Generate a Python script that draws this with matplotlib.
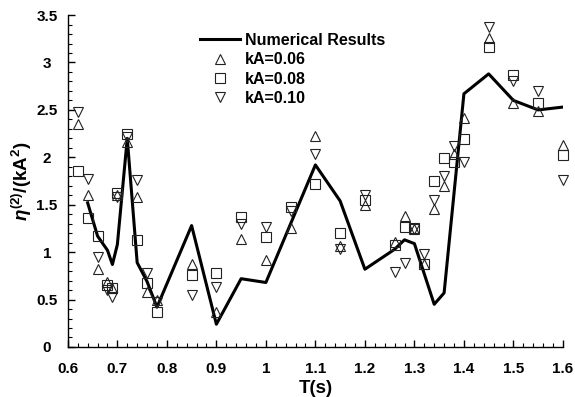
import matplotlib
matplotlib.use("Agg")
import matplotlib.pyplot as plt
from matplotlib.ticker import MultipleLocator

plt.rcParams['font.family'] = ['Liberation Sans', 'DejaVu Sans']
plt.rcParams['font.weight'] = 'bold'
plt.rcParams['mathtext.fontset'] = 'custom'
plt.rcParams['mathtext.rm'] = 'Liberation Sans:bold'
plt.rcParams['mathtext.bf'] = 'Liberation Sans:bold'
plt.rcParams['mathtext.it'] = 'Liberation Sans:bold:italic'

# Numerical solution
T_num = [0.64, 0.66, 0.68, 0.69, 0.70, 0.72, 0.74, 0.76, 0.78, 0.85, 0.90, 0.95,
         1.00, 1.10, 1.15, 1.20, 1.26, 1.28, 1.30, 1.34, 1.36, 1.40, 1.45, 1.50,
         1.55, 1.60]
eta_num = [1.52, 1.17, 1.02, 0.87, 1.08, 2.20, 0.89, 0.69, 0.42, 1.28, 0.24, 0.72,
           0.68, 1.92, 1.54, 0.82, 1.03, 1.13, 1.09, 0.45, 0.57, 2.67, 2.88, 2.60,
           2.50, 2.53]

# Experimental periods
T_exp = [0.62, 0.64, 0.66, 0.68, 0.69, 0.70, 0.72, 0.74, 0.76, 0.78, 0.85, 0.90,
         0.95, 1.00, 1.05, 1.10, 1.15, 1.20, 1.26, 1.28, 1.30, 1.32, 1.34, 1.36,
         1.38, 1.40, 1.45, 1.50, 1.55, 1.60]
eta_kA006 = [2.35, 1.60, 0.82, 0.69, 0.62, 1.60, 2.16, 1.58, 0.58, 0.50, 0.88, 0.37,
             1.14, 0.92, 1.25, 2.23, 1.07, 1.50, 1.11, 1.38, 1.24, 0.88, 1.46, 1.70,
             2.04, 2.41, 3.26, 2.57, 2.49, 2.13]
eta_kA008 = [1.86, 1.36, 1.17, 0.65, 0.62, 1.62, 2.25, 1.13, 0.67, 0.37, 0.76, 0.78,
             1.37, 1.16, 1.48, 1.72, 1.20, 1.55, 1.08, 1.26, 1.25, 0.87, 1.75, 1.99,
             1.95, 2.19, 3.16, 2.87, 2.57, 2.02]
eta_kA010 = [2.48, 1.77, 0.95, 0.60, 0.53, 1.58, 2.21, 1.76, 0.78, 0.47, 0.55, 0.63,
             1.30, 1.27, 1.43, 2.04, 1.03, 1.60, 0.79, 0.89, 1.24, 0.98, 1.55, 1.80,
             2.12, 1.95, 3.37, 2.81, 2.70, 1.76]

x_ticks = [0.6, 0.7, 0.8, 0.9, 1.0, 1.1, 1.2, 1.3, 1.4, 1.5, 1.6]
x_ticklabels = ['0.6', '0.7', '0.8', '0.9', '1', '1.1', '1.2', '1.3', '1.4', '1.5', '1.6']
y_ticks = [0, 0.5, 1, 1.5, 2, 2.5, 3, 3.5]
y_ticklabels = ['0', '0.5', '1', '1.5', '2', '2.5', '3', '3.5']

fig = plt.figure(figsize=(5.75, 3.97), dpi=100)
ax = fig.add_axes([0.118, 0.126, 0.861, 0.836])

ax.plot(T_num, eta_num, color='black', lw=2.2, label='Numerical Results', zorder=3)
mk = dict(ls='none', ms=7.3, mfc='none', mec='#222222', mew=0.8, zorder=4, clip_on=False)
ax.plot(T_exp, eta_kA006, marker='^', label='kA=0.06', **mk)
ax.plot(T_exp, eta_kA008, marker='s', label='kA=0.08', **mk)
ax.plot(T_exp, eta_kA010, marker='v', label='kA=0.10', **mk)

ax.set_xlim(0.6, 1.6)
ax.set_ylim(0, 3.5)
ax.xaxis.set_minor_locator(MultipleLocator(0.02))
ax.yaxis.set_minor_locator(MultipleLocator(0.1))
ax.set_xticks(x_ticks)
ax.set_xticklabels(x_ticklabels)
ax.set_yticks(y_ticks)
ax.set_yticklabels(y_ticklabels, ha='center')

for side in ('top', 'right'):
    ax.spines[side].set_visible(False)
for side in ('left', 'bottom'):
    ax.spines[side].set_linewidth(1.0)
ax.tick_params(which='major', direction='in', length=5, width=1.0, labelsize=11)
ax.tick_params(axis='x', which='major', pad=11)
ax.tick_params(axis='y', which='major', pad=15)
ax.tick_params(which='minor', direction='in', length=3, width=0.8)

ax.set_xlabel('T(s)', fontsize=13.5, fontweight='bold', labelpad=3)
ax.set_ylabel(r'$\mathit{\eta}^{\mathrm{(2)}}\mathrm{/(kA^{2})}$', fontsize=13.5, labelpad=2)

leg = ax.legend(loc='upper left', bbox_to_anchor=(0.267, 0.946), frameon=False,
                fontsize=11.5, handlelength=2.5, handletextpad=0.3, labelspacing=0.27,
                borderaxespad=0, borderpad=0)

fig.savefig('out.png', dpi=100)
